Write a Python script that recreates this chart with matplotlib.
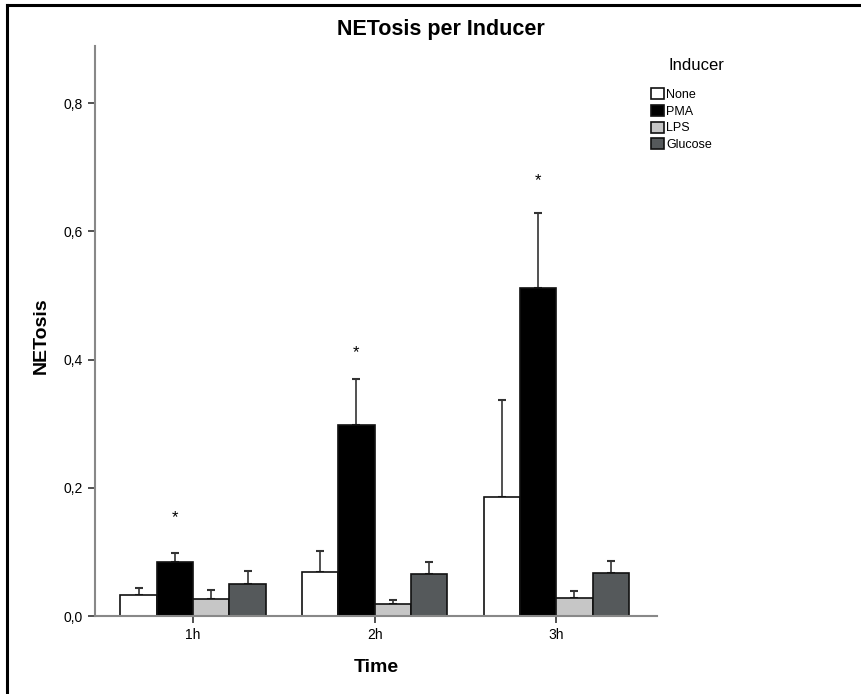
import numpy as np
import matplotlib
matplotlib.use("Agg")
import matplotlib.pyplot as plt
from matplotlib.patches import Patch
from matplotlib.lines import Line2D

plt.rcParams['font.family'] = ['Liberation Sans', 'DejaVu Sans']

# data
times = ['1h', '2h', '3h']
inducers = ['None', 'PMA', 'LPS', 'Glucose']
means = {
    'None':    [0.033, 0.069, 0.186],
    'PMA':     [0.084, 0.298, 0.512],
    'LPS':     [0.027, 0.019, 0.028],
    'Glucose': [0.050, 0.066, 0.067],
}
err_top = {
    'None':    [0.044, 0.102, 0.337],
    'PMA':     [0.099, 0.370, 0.629],
    'LPS':     [0.040, 0.025, 0.039],
    'Glucose': [0.070, 0.085, 0.086],
}
star_y = [0.154, 0.410, 0.679]
colors = ['#ffffff', '#000000', '#c6c6c6', '#55595b']

fig = plt.figure(figsize=(8.62, 6.94), dpi=100)
ax = fig.add_axes([95/862, 78/694, (657-95)/862, (616-46)/694])

x = np.arange(len(times))
w = 0.2
for i, name in enumerate(inducers):
    pos = x + (i - 1.5) * w
    m = np.array(means[name])
    up = np.array(err_top[name]) - m
    ax.bar(pos, m, width=w, color=colors[i], edgecolor='#111111', linewidth=1.2, zorder=2)
    ax.errorbar(pos, m, yerr=[np.zeros_like(up), up], fmt='none', ecolor='#333333',
                elinewidth=1.2, capsize=3, capthick=1.5, zorder=1)

for xi, sy in zip(x, star_y):
    ax.text(xi - 0.5 * w, sy, '*', ha='center', va='center', fontsize=12)

ax.set_xlim(-0.54, 2.555)
ax.set_ylim(0, 0.889)
ax.set_xticks(x)
ax.set_xticklabels(times, fontsize=10)
ax.set_yticks([0, 0.2, 0.4, 0.6, 0.8])
ax.set_yticklabels(['0,0', '0,2', '0,4', '0,6', '0,8'], fontsize=10)
ax.tick_params(axis='both', length=5, width=1.2, color='#333333')
for s in ['top', 'right']:
    ax.spines[s].set_visible(False)
for s in ['left', 'bottom']:
    ax.spines[s].set_color('#888888')
    ax.spines[s].set_linewidth(1.5)

fig.text(376/862, 1 - 668/694, 'Time', ha='center', va='center', fontsize=14, fontweight='bold')
fig.text(41/862, 1 - 336/694, 'NETosis', ha='center', va='center', rotation=90,
         fontsize=14, fontweight='bold')
fig.text(441/862, 1 - 30/694, 'NETosis per Inducer', ha='center', va='center',
         fontsize=15.5, fontweight='bold')

# legend: title drawn separately, offset to the right as in the reference
fig.text(696/862, 1 - 66/694, 'Inducer', ha='center', va='center', fontsize=12)
handles = [Patch(facecolor=c, edgecolor='#111111', linewidth=1.2) for c in colors]
leg = fig.legend(handles, inducers, loc='upper left', bbox_to_anchor=(640/862, 1 - 77/694),
                 frameon=False, fontsize=9,
                 handlelength=1.0, handleheight=1.0, handletextpad=0.2, labelspacing=0.3)

# frame lines on top and left like the reference
fig.add_artist(Line2D([7/862, 1], [1 - 5/694, 1 - 5/694], color='black', linewidth=2.2))
fig.add_artist(Line2D([7/862, 7/862], [0, 1 - 5/694], color='black', linewidth=2.2))

fig.savefig('out.png', dpi=100)
